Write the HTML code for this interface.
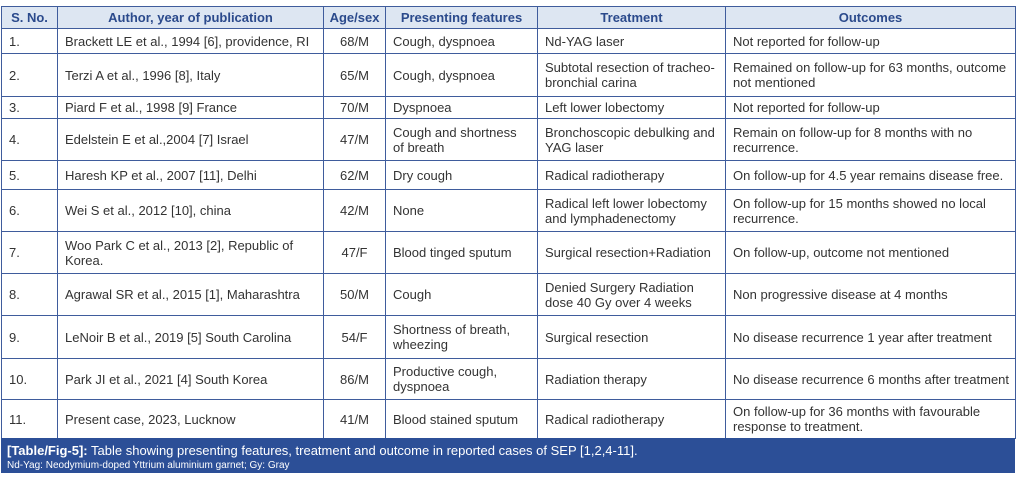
<!DOCTYPE html>
<html><head><meta charset="utf-8"><style>
html,body{margin:0;padding:0;background:#fff;}
body{width:1018px;height:485px;position:relative;overflow:hidden;font-family:"Liberation Sans",Arial,sans-serif;}
table{position:absolute;left:1px;top:6px;border-collapse:collapse;table-layout:fixed;width:1014px;}
td,th{border:1px solid #3f5c9c;font-size:13px;color:#333;padding:0 0 0 7px;vertical-align:middle;line-height:15px;text-align:left;white-space:nowrap;overflow:hidden;}
th{background:#dde6f2;color:#2b4a8c;font-weight:bold;text-align:center;padding:0;}
td.c{text-align:center;padding:0;}
.cap{position:absolute;left:1px;top:438px;width:1014px;height:35px;background:#2c4f97;color:#fff;}
.cap .a{position:absolute;left:6px;top:5px;font-size:13px;}
.cap .b{position:absolute;left:6px;top:22px;font-size:10px;}
</style></head><body>
<table>
<colgroup><col style="width:56px"><col style="width:266px"><col style="width:62px"><col style="width:152px"><col style="width:188px"><col style="width:290px"></colgroup>
<tr style="height:22px"><th>S. No.</th><th>Author, year of publication</th><th>Age/sex</th><th>Presenting features</th><th>Treatment</th><th>Outcomes</th></tr>
<tr style="height:25px"><td>1.</td><td>Brackett LE et al., 1994 [6], providence, RI</td><td class="c">68/M</td><td>Cough, dyspnoea</td><td>Nd-YAG laser</td><td>Not reported for follow-up</td></tr>
<tr style="height:43px"><td>2.</td><td>Terzi A et al., 1996 [8], Italy</td><td class="c">65/M</td><td>Cough, dyspnoea</td><td>Subtotal resection of tracheo-<br>bronchial carina</td><td>Remained on follow-up for 63 months, outcome<br>not mentioned</td></tr>
<tr style="height:22px"><td>3.</td><td>Piard F et al., 1998 [9] France</td><td class="c">70/M</td><td>Dyspnoea</td><td>Left lower lobectomy</td><td>Not reported for follow-up</td></tr>
<tr style="height:42px"><td>4.</td><td>Edelstein E et al.,2004 [7] Israel</td><td class="c">47/M</td><td>Cough and shortness<br>of breath</td><td>Bronchoscopic debulking and<br>YAG laser</td><td>Remain on follow-up for 8 months with no<br>recurrence.</td></tr>
<tr style="height:29px"><td>5.</td><td>Haresh KP et al., 2007 [11], Delhi</td><td class="c">62/M</td><td>Dry cough</td><td>Radical radiotherapy</td><td>On follow-up for 4.5 year remains disease free.</td></tr>
<tr style="height:42px"><td>6.</td><td>Wei S et al., 2012 [10], china</td><td class="c">42/M</td><td>None</td><td>Radical left lower lobectomy<br>and lymphadenectomy</td><td>On follow-up for 15 months showed no local<br>recurrence.</td></tr>
<tr style="height:42px"><td>7.</td><td>Woo Park C et al., 2013 [2], Republic of<br>Korea.</td><td class="c">47/F</td><td>Blood tinged sputum</td><td>Surgical resection+Radiation</td><td>On follow-up, outcome not mentioned</td></tr>
<tr style="height:42px"><td>8.</td><td>Agrawal SR et al., 2015 [1], Maharashtra</td><td class="c">50/M</td><td>Cough</td><td>Denied Surgery Radiation<br>dose 40 Gy over 4 weeks</td><td>Non progressive disease at 4 months</td></tr>
<tr style="height:43px"><td>9.</td><td>LeNoir B et al., 2019 [5] South Carolina</td><td class="c">54/F</td><td>Shortness of breath,<br>wheezing</td><td>Surgical resection</td><td>No disease recurrence 1 year after treatment</td></tr>
<tr style="height:41px"><td>10.</td><td>Park JI et al., 2021 [4] South Korea</td><td class="c">86/M</td><td>Productive cough,<br>dyspnoea</td><td>Radiation therapy</td><td>No disease recurrence 6 months after treatment</td></tr>
<tr style="height:39px"><td>11.</td><td>Present case, 2023, Lucknow</td><td class="c">41/M</td><td>Blood stained sputum</td><td>Radical radiotherapy</td><td>On follow-up for 36 months with favourable<br>response to treatment.</td></tr>
</table>
<div class="cap"><div class="a"><b>[Table/Fig-5]:</b> Table showing presenting features, treatment and outcome in reported cases of SEP [1,2,4-11].</div><div class="b">Nd-Yag: Neodymium-doped Yttrium aluminium garnet; Gy: Gray</div></div>
</body></html>
